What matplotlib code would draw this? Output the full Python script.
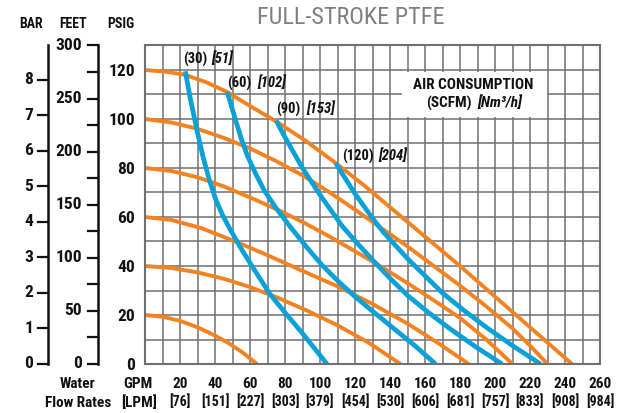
"""Full-stroke PTFE pump performance curve."""

import matplotlib

matplotlib.use("Agg")
import matplotlib.pyplot as plt
from matplotlib import font_manager
from matplotlib.patches import Rectangle


W, H = 631, 413
ORANGE = "#F58220"
BLUE = "#0AA0D8"
GRID = "#707070"
INK = "#111111"
TITLE_GREY = "#7F7F7F"

# axis scales
GPM_TICKS = [20, 40, 60, 80, 100, 120, 140, 160, 180, 200, 220, 240, 260]
LPM_LABELS = ["[76]", "[151]", "[227]", "[303]", "[379]", "[454]", "[530]",
              "[606]", "[681]", "[757]", "[833]", "[908]", "[984]"]
PSIG_TICKS = [0, 20, 40, 60, 80, 100, 120]
BAR_TICKS = [0, 1, 2, 3, 4, 5, 6, 7, 8]
FEET_TICKS = [0, 25, 50, 75, 100, 125, 150, 175, 200, 225, 250, 275, 300]
PSI_PER_BAR = 14.5038
FEET_PER_PSI = 2.307

# discharge pressure curves (orange), psig at given flow
P20_GPM = [0, 10, 20, 30, 40, 48, 56, 64]
P20_PSIG = [20, 19.3, 17.6, 15, 11.6, 8.4, 4.6, 0]
P40_GPM = [0, 15, 30, 45, 60, 75, 92, 110, 128, 146]
P40_PSIG = [40, 39.2, 37.4, 34.8, 31.4, 27.3, 22, 15.8, 8.6, 0]
P60_GPM = [0, 15, 32, 50, 70, 90, 110, 130, 150, 168, 185]
P60_PSIG = [60, 58.8, 55.5, 50.5, 44.4, 38, 31.7, 24.5, 16.5, 8.3, 0]
P80_GPM = [0, 15, 30, 45, 60, 75, 90, 105, 120, 135, 150, 165, 180, 195, 210]
P80_PSIG = [80, 78.8, 76.2, 72.5, 68, 63.2, 58, 52.2, 46, 39.7, 33, 26, 18.8, 10, 0]
P100_GPM = [0, 15, 30, 45, 60, 75, 90, 105, 120, 135, 150, 165, 180, 195, 210, 220, 230]
P100_PSIG = [100, 98.6, 96, 92.3, 88, 82.8, 77, 70.3, 63, 55.5, 48, 40, 32, 23.5, 14.5, 7.5, 0]
P120_GPM = [0, 12, 23, 35, 47, 60, 75, 92, 109, 125, 140, 160, 180, 200, 220, 232, 244]
P120_PSIG = [120, 119.3, 118, 115, 111, 105.3, 99, 91, 82, 73, 64, 52, 40, 27.5, 15, 7.5, 0]

# air consumption curves (blue)
A30_GPM = [23, 26, 29.5, 33, 36.7, 40.5, 44.5, 48.6, 55, 62, 71.4, 80, 90, 104]
A30_PSIG = [119.5, 108, 96, 85, 75.3, 67, 60.5, 55, 47, 39, 28.5, 21, 12.5, 0]
A60_GPM = [47, 49.5, 52, 55, 58.5, 63, 68, 75, 83, 92, 101, 110, 120, 131, 143, 155, 166]
A60_PSIG = [111, 105, 99, 92, 85, 78, 71, 63.5, 56, 48, 40.5, 34, 27.5, 21, 14, 7, 0]
A90_GPM = [75, 78.5, 82, 86, 90, 95, 100, 106, 113, 121, 130, 140, 150, 162, 175, 189, 204]
A90_PSIG = [99.3, 94.5, 90, 85, 80, 74.5, 69, 63, 56, 49.5, 42.5, 35, 28, 21, 14, 7, 0]
A120_GPM = [109, 112, 116, 120, 125, 130, 136, 143, 150, 160, 170, 182, 195, 210, 226]
A120_PSIG = [82, 78.5, 74, 69.5, 64.5, 59.5, 54, 48.5, 43, 36, 29, 22, 15, 7.5, 0]

AIR_LABELS = [("(30)", "[51]"), ("(60)", "[102]"), ("(90)", "[153]"), ("(120)", "[204]")]


def pick_font() -> str:
    names = {f.name for f in font_manager.fontManager.ttflist}
    for name in ["Liberation Sans Narrow", "Roboto Condensed", "Open Sans Condensed",
                 "DejaVu Sans Condensed", "Liberation Sans"]:
        if name in names:
            return name
    return "DejaVu Sans"


def fx(px: float) -> float:
    return px / W


def fy(py: float) -> float:
    return 1 - py / H


def main() -> None:
    font = pick_font()
    plt.rcParams["font.family"] = [font, "DejaVu Sans"]
    fig = plt.figure(figsize=(W / 100, H / 100), dpi=100)
    fig.patch.set_facecolor("white")

    left, right, top, bottom = 145, 600, 45.5, 364
    ax = fig.add_axes([fx(left), fy(bottom), fx(right - left), (bottom - top) / H])
    ax.set_xlim(0, 260)
    ax.set_ylim(0, 130)

    ax.set_xticks(GPM_TICKS)
    ax.set_xticks(range(0, 261, 10), minor=True)
    ax.set_yticks(PSIG_TICKS)
    ax.set_yticks(range(0, 131, 10), minor=True)
    ax.grid(which="both", color=GRID, linewidth=1.1)
    ax.set_axisbelow(True)
    ax.tick_params(which="both", length=0)
    ax.tick_params(axis="y", pad=7, labelsize=12.5)
    ax.tick_params(axis="x", pad=9, labelsize=11)
    for lab in ax.get_xticklabels() + ax.get_yticklabels():
        lab.set_fontweight("bold")
        lab.set_color(INK)
    for spine in ax.spines.values():
        spine.set_color(GRID)
        spine.set_linewidth(1.5)

    for gpm, psig in [(P20_GPM, P20_PSIG), (P40_GPM, P40_PSIG), (P60_GPM, P60_PSIG),
                      (P80_GPM, P80_PSIG), (P100_GPM, P100_PSIG), (P120_GPM, P120_PSIG)]:
        ax.plot(gpm, psig, color=ORANGE, linewidth=2.8, solid_capstyle="butt", solid_joinstyle="round")
    for gpm, psig in [(A30_GPM, A30_PSIG), (A60_GPM, A60_PSIG), (A90_GPM, A90_PSIG), (A120_GPM, A120_PSIG)]:
        ax.plot(gpm, psig, color=BLUE, linewidth=3.4, solid_capstyle="butt", solid_joinstyle="round")

    # LPM row under the GPM ticks
    for gpm, lpm in zip(GPM_TICKS, LPM_LABELS):
        ax.text(gpm, -(402 - bottom) / (bottom - top), lpm, transform=ax.get_xaxis_transform(),
                ha="center", va="center", fontsize=10, fontweight="bold", color=INK)

    # legend box
    ax.add_patch(Rectangle(((402 - left) / (right - left), (bottom - 117) / (bottom - top)),
                           (547 - 402) / (right - left), 45 / (bottom - top),
                           transform=ax.transAxes, facecolor="white", edgecolor="none", zorder=3))
    ax.text((473 - left) / (right - left), (bottom - 85) / (bottom - top), "AIR CONSUMPTION",
            transform=ax.transAxes, ha="center", va="center", fontsize=11, fontweight="bold", color=INK, zorder=4)
    ax.text((472 - left) / (right - left), (bottom - 103) / (bottom - top), "(SCFM)",
            transform=ax.transAxes, ha="right", va="center", fontsize=11, fontweight="bold", color=INK, zorder=4)
    ax.text((477 - left) / (right - left), (bottom - 103) / (bottom - top), "[Nm³/h]",
            transform=ax.transAxes, ha="left", va="center", fontsize=11, fontweight="bold",
            style="italic", color=INK, zorder=4)

    # curve labels
    label_pos = [(183, 211, 59), (227, 257, 83), (276, 306, 109), (342, 378, 156)]
    for (scfm, nm3), (x1, x2, y) in zip(AIR_LABELS, label_pos):
        fig.text(fx(x1), fy(y), scfm, ha="left", va="center", fontsize=10.5, fontweight="bold", color=INK)
        fig.text(fx(x2), fy(y), nm3, ha="left", va="center", fontsize=10.5, fontweight="bold",
                 style="italic", color=INK)

    # BAR and FEET scales to the left
    side = fig.add_axes([0, fy(bottom), fx(left), (bottom - top) / H])
    side.set_xlim(0, left)
    side.set_ylim(0, 130)
    side.axis("off")
    top_psi = FEET_TICKS[-1] / FEET_PER_PSI
    side.plot([48, 48], [0, top_psi], color=INK, linewidth=1.8, clip_on=False)
    side.plot([97.5, 97.5], [0, top_psi], color=INK, linewidth=1.8, clip_on=False)
    for b in BAR_TICKS:
        psi = b * PSI_PER_BAR
        side.plot([38, 48], [psi, psi], color=INK, linewidth=1.6, clip_on=False)
        side.text(33, psi, str(b), ha="right", va="center", fontsize=12.5, fontweight="bold", color=INK)
    for ft in FEET_TICKS:
        psi = ft / FEET_PER_PSI
        side.plot([88, 97.5], [psi, psi], color=INK, linewidth=1.6, clip_on=False)
        if ft % 50 == 0:
            side.text(82, psi, str(ft), ha="right", va="center", fontsize=12.5, fontweight="bold", color=INK)

    for text, x in [("BAR", 31.5), ("FEET", 73.5), ("PSIG", 120.5)]:
        fig.text(fx(x), fy(24.5), text, ha="center", va="center", fontsize=10, fontweight="bold", color=INK)
    fig.text(fx(77), fy(384), "Water", ha="center", va="center", fontsize=11, fontweight="bold", color=INK)
    fig.text(fx(78), fy(403), "Flow Rates", ha="center", va="center", fontsize=11, fontweight="bold", color=INK)
    fig.text(fx(138), fy(384), "GPM", ha="center", va="center", fontsize=11, fontweight="bold", color=INK)
    fig.text(fx(139.5), fy(403), "[LPM]", ha="center", va="center", fontsize=11, fontweight="bold", color=INK)

    fig.text(fx(351), fy(18), "FULL-STROKE PTFE", ha="center", va="center", fontsize=17.5, color=TITLE_GREY)

    fig.savefig("out.png", dpi=100)
    plt.close(fig)


if __name__ == "__main__":
    main()
